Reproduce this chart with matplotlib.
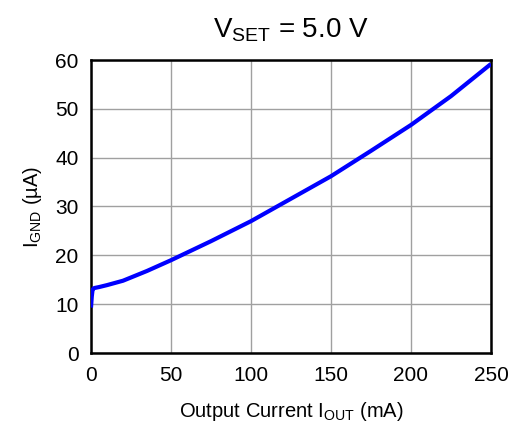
import matplotlib as mpl
mpl.use("Agg")
import matplotlib.pyplot as plt

mpl.rcParams.update({"font.family": ["Liberation Sans", "DejaVu Sans"], "mathtext.fontset": "custom",
                     "mathtext.rm": "Liberation Sans", "mathtext.it": "Liberation Sans"})

# output current (mA) vs ground current (uA)
iout = [0, 0.5, 1, 2, 5, 10, 20, 35, 50, 75, 100, 125, 150, 175, 200, 225, 250]
ignd = [9.3, 11.6, 13.0, 13.3, 13.5, 13.9, 14.8, 16.8, 19.0, 22.9, 27.0, 31.6, 36.2, 41.4, 46.7, 52.6, 59.2]

fig = plt.figure(figsize=(5.09, 4.23), dpi=100)
ax = fig.add_axes([91 / 509, 1 - 353 / 423, 400 / 509, 293 / 423])
ax.plot(iout, ignd, color="#0000ff", lw=3.0, solid_capstyle="butt", zorder=3)
ax.set_xlim(0, 250)
ax.set_ylim(0, 60)
ax.set_xticks([0, 50, 100, 150, 200, 250])
ax.set_yticks([0, 10, 20, 30, 40, 50, 60])
ax.grid(True, color="#a0a0a0", lw=1.0)
ax.tick_params(length=0, labelsize=15, pad=9)
for s in ax.spines.values():
    s.set_linewidth(1.8)
ax.set_title(r"V$_{\mathrm{SET}}$ = 5.0 V", fontsize=20, pad=16)
ax.set_xlabel(r"Output Current I$_{\mathrm{OUT}}$ (mA)", fontsize=14.5, labelpad=11)
ax.set_ylabel(r"I$_{\mathrm{GND}}$ (µA)", fontsize=14.5, labelpad=8)
fig.savefig("out.png", dpi=100)
